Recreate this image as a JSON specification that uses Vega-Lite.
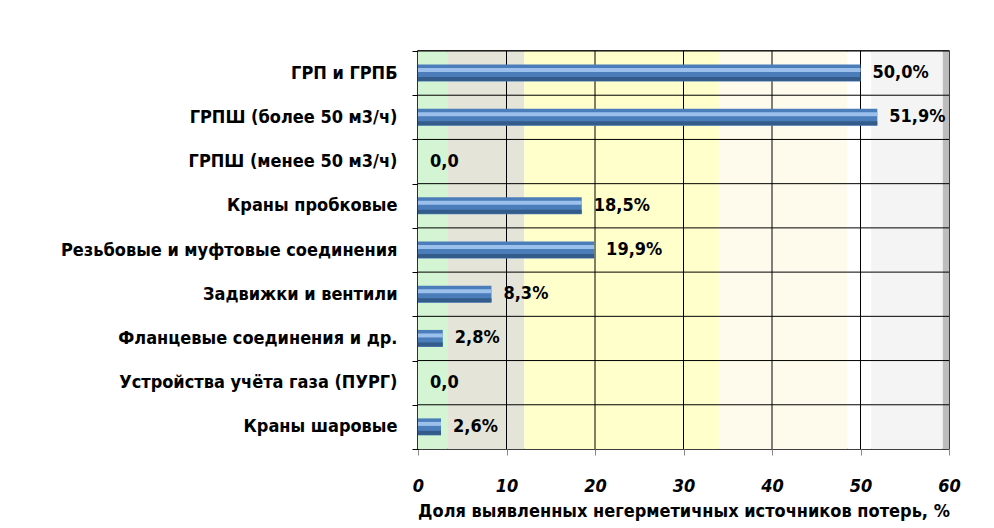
{
  "$schema": "https://vega.github.io/schema/vega-lite/v6.json",
  "width": 531,
  "height": 398,
  "autosize": {"type": "none"},
  "padding": {"left": 418, "top": 51, "right": 45, "bottom": 79},
  "background": "white",
  "config": {
    "view": {"stroke": "black", "strokeWidth": 1.5},
    "font": "DejaVu Sans Condensed"
  },
  "datasets": {
    "items": [
      {"cat": "ГРП и ГРПБ", "value": 50.0, "label": "50,0%"},
      {"cat": "ГРПШ (более 50  м3/ч)", "value": 51.9, "label": "51,9%"},
      {"cat": "ГРПШ (менее 50  м3/ч)", "value": 0, "label": "0,0"},
      {"cat": "Краны пробковые", "value": 18.5, "label": "18,5%"},
      {"cat": "Резьбовые и муфтовые соединения", "value": 19.9, "label": "19,9%"},
      {"cat": "Задвижки и вентили", "value": 8.3, "label": "8,3%"},
      {"cat": "Фланцевые соединения и др.", "value": 2.8, "label": "2,8%"},
      {"cat": "Устройства учёта газа  (ПУРГ)", "value": 0, "label": "0,0"},
      {"cat": "Краны шаровые", "value": 2.6, "label": "2,6%"}
    ],
    "bands": [
      {"zone": "green", "from": 0, "to": 3.3},
      {"zone": "grey", "from": 3.3, "to": 12},
      {"zone": "yellow", "from": 12, "to": 34},
      {"zone": "cream", "from": 34, "to": 48.5},
      {"zone": "white", "from": 48.5, "to": 51.2},
      {"zone": "light", "from": 51.2, "to": 59.3},
      {"zone": "edge", "from": 59.3, "to": 60}
    ],
    "grid": [{"v": 10}, {"v": 20}, {"v": 30}, {"v": 40}, {"v": 50}]
  },
  "layer": [
    {
      "data": {"name": "bands"},
      "mark": {"type": "rect"},
      "encoding": {
        "x": {"field": "from", "type": "quantitative", "scale": {"domain": [0, 60], "nice": false, "zero": true}},
        "x2": {"field": "to"},
        "color": {
          "field": "zone", "type": "nominal", "legend": null,
          "scale": {
            "domain": ["green", "grey", "yellow", "cream", "white", "light", "edge"],
            "range": ["#D3F5D3", "#E4E4D8", "#FFFFCC", "#FFFBEC", "#FFFFFF", "#F4F4F4", "#BDBDBD"]
          }
        }
      }
    },
    {
      "data": {"name": "grid"},
      "mark": {"type": "rule", "color": "black", "strokeWidth": 1},
      "encoding": {
        "x": {"field": "v", "type": "quantitative"}
      }
    },
    {
      "data": {"name": "items"},
      "layer": [
        {
          "mark": {"type": "rule", "color": "black", "strokeWidth": 1},
          "encoding": {
            "y": {"field": "cat", "type": "nominal", "sort": null, "bandPosition": 0}
          }
        },
        {
          "mark": {"type": "bar", "size": 17, "fill": "#4A7DBA"},
          "encoding": {
            "y": {
              "field": "cat", "type": "nominal", "sort": null,
              "axis": {
                "title": null,
                "tickBand": "extent",
                "ticks": true,
                "tickSize": 6,
                "tickColor": "black",
                "domain": true,
                "domainColor": "black",
                "domainWidth": 1.5,
                "grid": false,
                "labelFont": "DejaVu Sans Condensed",
                "labelFontSize": 18,
                "labelFontWeight": "bold",
                "labelColor": "black",
                "labelPadding": 15,
                "labelLimit": 420
              }
            },
            "x": {
              "field": "value", "type": "quantitative",
              "axis": {
                "values": [0, 10, 20, 30, 40, 50, 60],
                "grid": false,
                "domain": false,
                "ticks": true,
                "tickSize": 6,
                "tickColor": "#888888",
                "labelFlush": false,
                "labelFont": "DejaVu Sans Condensed",
                "labelFontSize": 18,
                "labelFontWeight": "bold",
                "labelFontStyle": "italic",
                "labelColor": "black",
                "labelPadding": 22,
                "title": "Доля выявленных негерметичных  источников потерь, %",
                "titleFont": "DejaVu Sans Condensed",
                "titleFontSize": 18,
                "titleFontWeight": "bold",
                "titleColor": "black",
                "titlePadding": 7
              }
            }
          }
        },
        {
          "mark": {"type": "bar", "size": 4, "yOffset": -3, "fill": "#9CC0EC"},
          "encoding": {
            "y": {"field": "cat", "type": "nominal", "sort": null},
            "x": {"field": "value", "type": "quantitative"}
          }
        },
        {
          "mark": {"type": "bar", "size": 4, "yOffset": 6, "fill": "#345C8A"},
          "encoding": {
            "y": {"field": "cat", "type": "nominal", "sort": null},
            "x": {"field": "value", "type": "quantitative"}
          }
        },
        {
          "mark": {"type": "text", "align": "left", "baseline": "middle", "dx": 12, "fontSize": 18, "fontWeight": "bold", "font": "DejaVu Sans Condensed", "color": "black"},
          "encoding": {
            "y": {"field": "cat", "type": "nominal", "sort": null},
            "x": {"field": "value", "type": "quantitative"},
            "text": {"field": "label"}
          }
        }
      ]
    }
  ]
}
